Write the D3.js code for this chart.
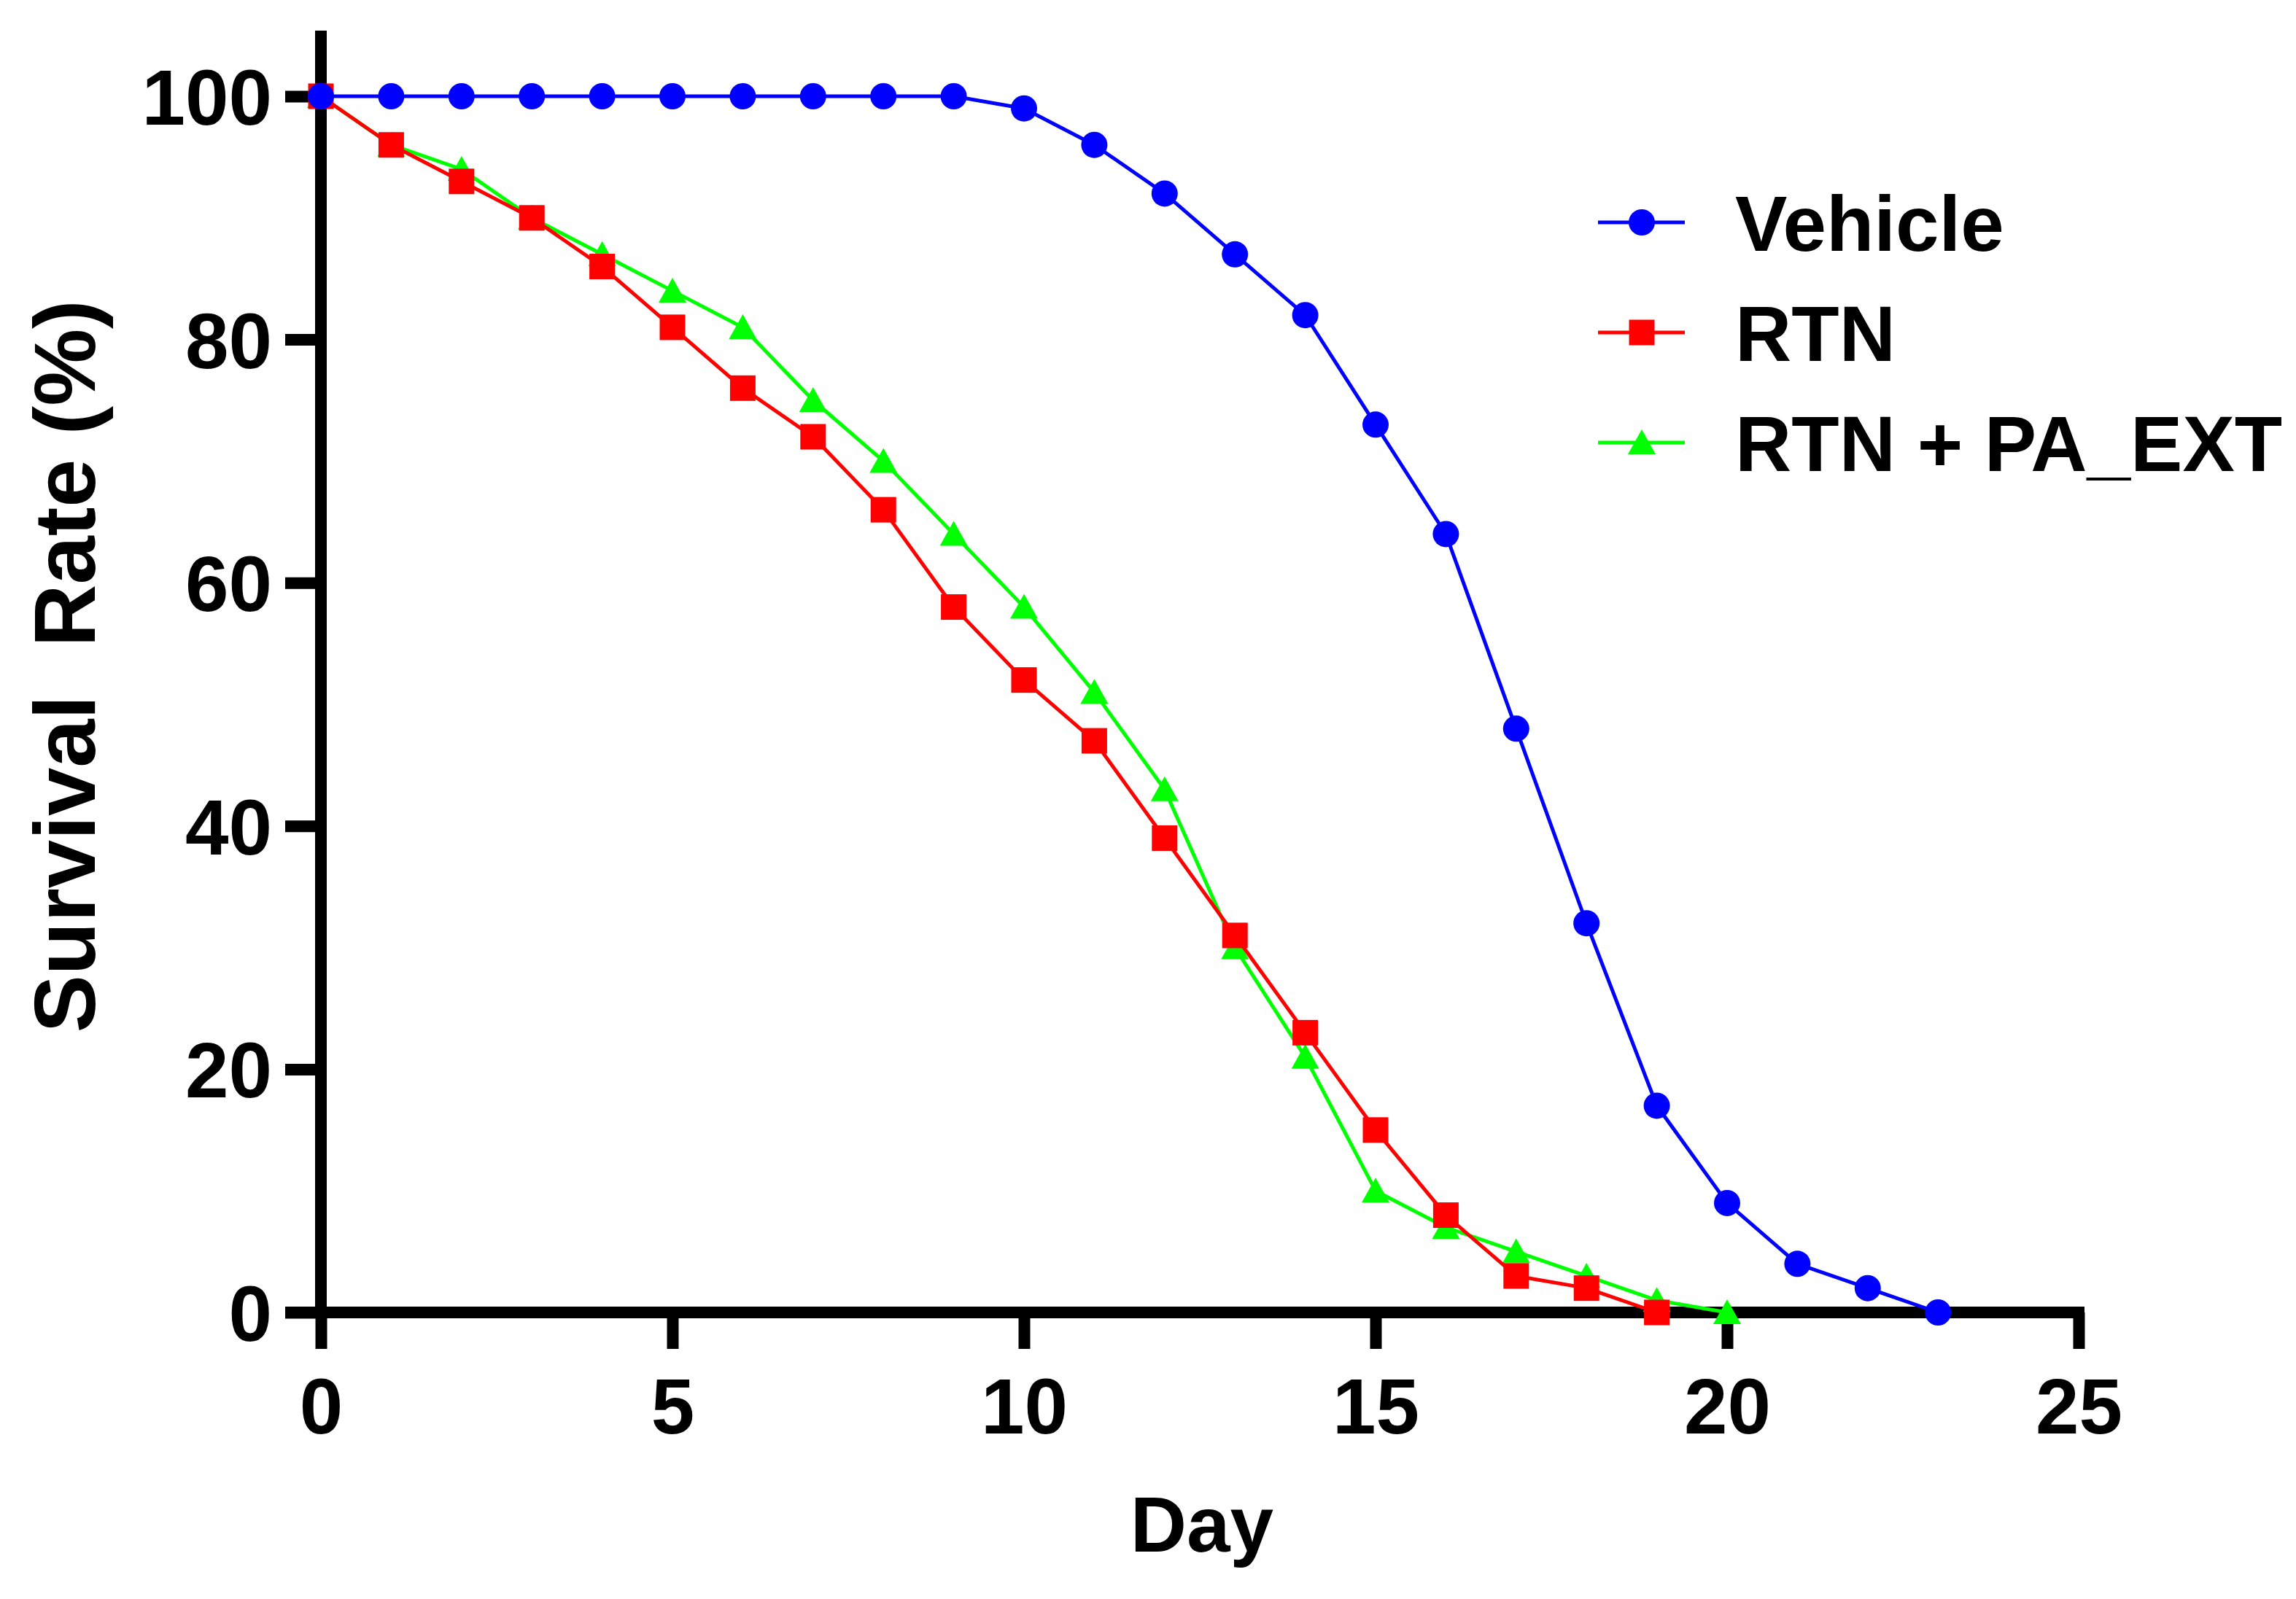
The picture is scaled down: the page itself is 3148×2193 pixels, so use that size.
<!DOCTYPE html>
<html>
<head>
<meta charset="utf-8">
<script src="https://cdn.jsdelivr.net/npm/d3@7"></script>
<style>
  body { margin: 0; background: #ffffff; }
  text { font-family: 'Liberation Sans', Arial, Helvetica, sans-serif; font-weight: bold; fill: #000000; }
</style>
</head>
<body>
<div id="chart"></div>
<script>
const days = d3.range(0, 24)
const vehicle = [100, 100, 100, 100, 100, 100, 100, 100, 100, 100, 99, 96, 92, 87, 82, 73, 64, 48, 32, 17, 9, 4, 2, 0]
const rtn = [100, 96, 93, 90, 86, 81, 76, 72, 66, 58, 52, 47, 39, 31, 23, 15, 8, 3, 2, 0]
const rtnPa = [100, 96, 94, 90, 87, 84, 81, 75, 70, 64, 58, 51, 43, 30, 21, 10, 7, 5, 3, 1, 0]
const seriesNames = ['Vehicle', 'RTN', 'RTN + PA_EXT']
const xTicks = [0, 5, 10, 15, 20, 25]
const yTicks = [0, 20, 40, 60, 80, 100]

const W = 3148
const H = 2193
const AXIS_W = 16
const FONT = 107

const svg = d3.select('#chart').append('svg').attr('width', W).attr('height', H)
svg.append('rect').attr('width', W).attr('height', H).attr('fill', '#ffffff')

const x = d3.scaleLinear().domain([0, 25]).range([440, 2850])
const y = d3.scaleLinear().domain([0, 100]).range([1800, 132])

// axes: heavy black lines, ticks only on the outside
const yAxis = svg
  .append('g')
  .attr('transform', `translate(${x(0)},0)`)
  .call(d3.axisLeft(y).tickValues(yTicks).tickSize(49).tickSizeOuter(0).tickPadding(18))
yAxis.select('.domain').remove()
yAxis.selectAll('line').attr('stroke', '#000').attr('stroke-width', AXIS_W)
yAxis.selectAll('text').attr('font-size', FONT).attr('dy', '0.36em')

const xAxis = svg
  .append('g')
  .attr('transform', `translate(0,${y(0)})`)
  .call(d3.axisBottom(x).tickValues(xTicks).tickSize(50).tickSizeOuter(0))
xAxis.select('.domain').remove()
xAxis.selectAll('line').attr('stroke', '#000').attr('stroke-width', AXIS_W)
xAxis.selectAll('text').attr('font-size', FONT).attr('y', 166).attr('dy', 0)

svg
  .append('line')
  .attr('x1', x(0))
  .attr('x2', x(0))
  .attr('y1', y(0) + AXIS_W / 2)
  .attr('y2', y(100) - 90)
  .attr('stroke', '#000')
  .attr('stroke-width', AXIS_W)

svg
  .append('line')
  .attr('x1', x(0) - 49)
  .attr('x2', x(25) + AXIS_W / 2)
  .attr('y1', y(0))
  .attr('y2', y(0))
  .attr('stroke', '#000')
  .attr('stroke-width', AXIS_W)

// axis titles
svg
  .append('text')
  .attr('x', (x(0) + x(25)) / 2 + 3)
  .attr('y', 2128)
  .attr('text-anchor', 'middle')
  .attr('font-size', FONT)
  .text('Day')

svg
  .append('text')
  .attr('transform', `translate(130, ${(y(0) + y(100)) / 2 - 52}) rotate(-90)`)
  .attr('text-anchor', 'middle')
  .attr('font-size', 119)
  .style('white-space', 'pre')
  .text('Survival  Rate (%)')

// markers
const circle = (g) => g.append('circle').attr('r', 18)
const square = (g) => g.append('rect').attr('x', -17.5).attr('y', -17.5).attr('width', 35).attr('height', 35)
const triangle = (g) => g.append('path').attr('d', 'M0,-18L19,16L-19,16Z')

const series = [
  { name: seriesNames[0], values: vehicle, color: '#0000ff', marker: circle },
  { name: seriesNames[1], values: rtn, color: '#ff0000', marker: square },
  { name: seriesNames[2], values: rtnPa, color: '#00ff00', marker: triangle },
]

const line = d3
  .line()
  .x((d) => x(d[0]))
  .y((d) => y(d[1]))

// green first, blue last (blue sits on top)
series
  .slice()
  .reverse()
  .forEach((s) => {
    const pts = s.values.map((v, i) => [days[i], v])
    const g = svg.append('g')
    g.append('path')
      .attr('d', line(pts))
      .attr('fill', 'none')
      .attr('stroke', s.color)
      .attr('stroke-width', 5)
      .attr('stroke-linejoin', 'round')
    pts.forEach((p) => {
      const m = g.append('g').attr('transform', `translate(${x(p[0])},${y(p[1])})`)
      s.marker(m).attr('fill', s.color)
    })
  })

// legend
series.forEach((s, i) => {
  const row = svg.append('g').attr('transform', `translate(2191,${305 + i * 151})`)
  row
    .append('line')
    .attr('x1', 0)
    .attr('x2', 119)
    .attr('y1', 0)
    .attr('y2', 0)
    .attr('stroke', s.color)
    .attr('stroke-width', 5)
  const m = row.append('g').attr('transform', 'translate(60,0)')
  s.marker(m).attr('fill', s.color)
  row
    .append('text')
    .attr('x', 188)
    .attr('y', 0)
    .attr('dy', '0.36em')
    .attr('font-size', FONT)
    .text(s.name)
})
</script>
</body>
</html>
